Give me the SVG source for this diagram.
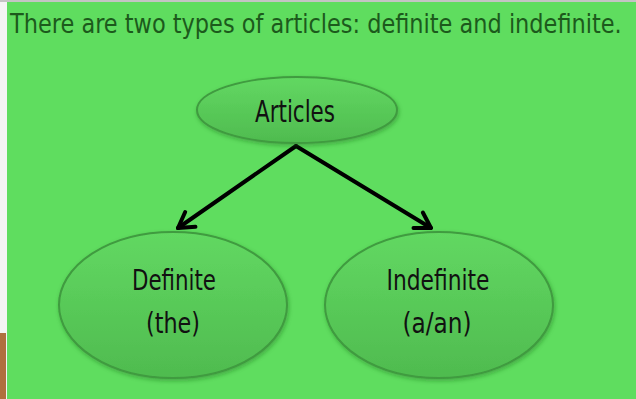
<svg xmlns="http://www.w3.org/2000/svg" width="636" height="399" viewBox="0 0 636 399">
<style>
.node{stroke:#3f9b3f;stroke-width:2}
.lbl{font-family:"DejaVu Sans Condensed","DejaVu Sans",sans-serif;fill:#111;text-anchor:middle}
.conn{stroke:#000;stroke-width:4;fill:none;stroke-linecap:round}
</style>
<defs>
<linearGradient id="g" x1="0" y1="0" x2="0" y2="1">
<stop offset="0" stop-color="#62d862"/>
<stop offset="1" stop-color="#4fbb4f"/>
</linearGradient>
<filter id="sh" x="-10%" y="-10%" width="120%" height="130%">
<feDropShadow dx="1" dy="2" stdDeviation="2" flood-color="#1e5e1e" flood-opacity="0.4"/>
</filter>
<marker id="ah" markerUnits="userSpaceOnUse" viewBox="-20 -12 24 24" refX="0" refY="0" markerWidth="24" markerHeight="24" orient="auto">
<path d="M-15,-9 L0,0 L-15,9" fill="none" stroke="#000" stroke-width="4" stroke-linecap="round" stroke-linejoin="round"/>
</marker>
</defs>
<rect x="0" y="0" width="636" height="399" fill="#f4f4f4"/>
<rect x="7" y="0" width="629" height="399" fill="#5fdd5f"/>
<rect x="0" y="0" width="636" height="2" fill="#c4c4c4"/>
<rect x="0" y="333" width="6" height="66" fill="#b0703e"/>
<g transform="scale(0.88,1)">
<text x="359" y="33" font-family="DejaVu Sans Condensed, DejaVu Sans, sans-serif" font-size="26" fill="#1c5a1c" text-anchor="middle" textLength="695" lengthAdjust="spacingAndGlyphs">There are two types of articles: definite and indefinite.</text>
</g>
<g id="connectors">
<line class="conn" x1="296" y1="146" x2="178" y2="228" marker-end="url(#ah)"/>
<line class="conn" x1="296" y1="146" x2="431" y2="228" marker-end="url(#ah)"/>
</g>
<g id="articles">
<ellipse class="node" cx="297" cy="110" rx="100" ry="33" fill="url(#g)" filter="url(#sh)"/>
<text class="lbl" x="295" y="122" font-size="30" textLength="80" lengthAdjust="spacingAndGlyphs">Articles</text>
</g>
<g id="definite">
<ellipse class="node" cx="173" cy="305" rx="114" ry="73" fill="url(#g)" filter="url(#sh)"/>
<text class="lbl" x="174" y="290" font-size="29" textLength="84" lengthAdjust="spacingAndGlyphs">Definite</text>
<text class="lbl" x="173" y="333" font-size="29" textLength="54" lengthAdjust="spacingAndGlyphs">(the)</text>
</g>
<g id="indefinite">
<ellipse class="node" cx="439" cy="305" rx="114" ry="73" fill="url(#g)" filter="url(#sh)"/>
<text class="lbl" x="438" y="290" font-size="29" textLength="103" lengthAdjust="spacingAndGlyphs">Indefinite</text>
<text class="lbl" x="437" y="333" font-size="29" textLength="69" lengthAdjust="spacingAndGlyphs">(a/an)</text>
</g>
</svg>
